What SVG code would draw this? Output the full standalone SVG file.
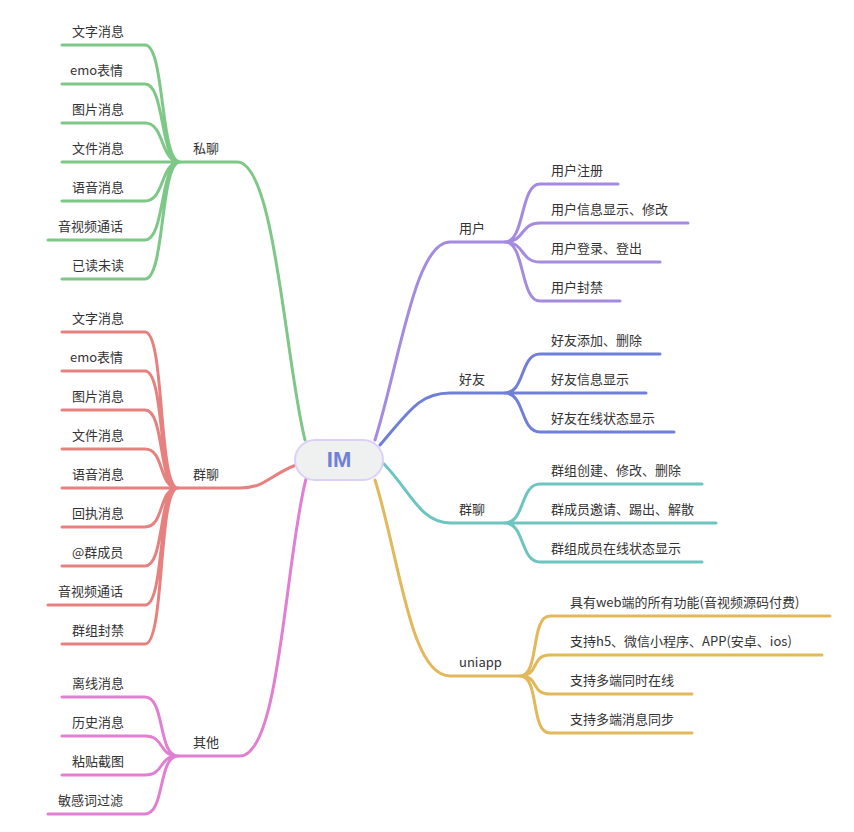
<svg xmlns="http://www.w3.org/2000/svg" width="854" height="832" viewBox="0 0 854 832">
<style>
text{font-family:"Noto Sans CJK SC","Liberation Sans",sans-serif;font-size:13px;fill:#333}
path{fill:none;stroke-width:3;stroke-linecap:round}
.g{stroke:#7dc886}.r{stroke:#e6817f}.p{stroke:#e17fd3}.u{stroke:#a48be0}.b{stroke:#6f7fda}.t{stroke:#6cc5c0}.y{stroke:#e2b85a}
.l{text-anchor:start}
</style>
<rect width="854" height="832" fill="#fff"/>
<g id="connectors">
<path class="g" d="M305,440 C285,360 275,162 237,162 H180"/>
<path class="g" d="M180,162 C160,162 165,45 145,45 H62 M180,162 C160,162 165,84 145,84 H62 M180,162 C160,162 165,123 145,123 H62 M180,162 H62 M180,162 C160,162 165,201 145,201 H62 M180,162 C160,162 165,240 145,240 H48 M180,162 C160,162 165,279 145,279 H62"/>
<path class="r" d="M296,465 C270,475 265,488 240,488 H178"/>
<path class="r" d="M178,488 C158,488 165,332 145,332 H62 M178,488 C158,488 165,371 145,371 H62 M178,488 C158,488 165,410 145,410 H62 M178,488 C158,488 165,449 145,449 H62 M178,488 H62 M178,488 C158,488 165,527 145,527 H62 M178,488 C158,488 165,566 145,566 H62 M178,488 C158,488 165,605 145,605 H48 M178,488 C158,488 165,644 145,644 H62"/>
<path class="p" d="M306,479 C285,560 280,756 240,756 H178"/>
<path class="p" d="M178,756 C158,756 165,697 145,697 H62 M178,756 C158,756 165,736 145,736 H62 M178,756 C158,756 165,775 145,775 H62 M178,756 C158,756 165,814 145,814 H48"/>
<path class="u" d="M375,440 C400,360 415,242 450,242 H505"/>
<path class="u" d="M505,242 C525,242 520,184 540,184 H618 M505,242 C525,242 520,223 540,223 H688 M505,242 C525,242 520,262 540,262 H660 M505,242 C525,242 520,301 540,301 H620"/>
<path class="b" d="M380,445 C410,410 420,393 450,393 H505"/>
<path class="b" d="M505,393 C525,393 520,354 540,354 H660 M505,393 H646 M505,393 C525,393 520,432 540,432 H674"/>
<path class="t" d="M383,463 C410,490 420,523 450,523 H505"/>
<path class="t" d="M505,523 C525,523 520,484 540,484 H702 M505,523 H716 M505,523 C525,523 520,562 540,562 H702"/>
<path class="y" d="M375,480 C400,560 410,676 450,676 H520"/>
<path class="y" d="M520,676 C540,676 530,616 550,616 H830 M520,676 C540,676 530,655 550,655 H822 M520,676 C540,676 530,694 550,694 H692 M520,676 C540,676 530,733 550,733 H692"/>
</g>
<g id="IM"><rect x="295" y="440" width="88" height="40" rx="20" fill="#eff0f0" stroke="#dcd0f8" stroke-width="2"/><text x="339" y="467" text-anchor="middle" style="font-size:22px;font-weight:bold;fill:#6f7fda;font-family:'Liberation Sans',sans-serif">IM</text></g>
<g id="siliao"><text x="193" y="153">私聊</text>
<text x="72" y="36">文字消息</text><text x="70" y="75">emo表情</text><text x="72" y="114">图片消息</text><text x="72" y="153">文件消息</text><text x="72" y="192">语音消息</text><text x="58" y="231">音视频通话</text><text x="72" y="270">已读未读</text></g>
<g id="qunliao-left"><text x="193" y="479">群聊</text>
<text x="72" y="323">文字消息</text><text x="70" y="362">emo表情</text><text x="72" y="401">图片消息</text><text x="72" y="440">文件消息</text><text x="72" y="479">语音消息</text><text x="72" y="518">回执消息</text><text x="72" y="557">@群成员</text><text x="58" y="596">音视频通话</text><text x="72" y="635">群组封禁</text></g>
<g id="qita"><text x="193" y="747">其他</text>
<text x="72" y="688">离线消息</text><text x="72" y="727">历史消息</text><text x="72" y="766">粘贴截图</text><text x="58" y="805">敏感词过滤</text></g>
<g id="yonghu"><text x="459" y="233">用户</text>
<text x="551" y="175">用户注册</text><text x="551" y="214">用户信息显示、修改</text><text x="551" y="253">用户登录、登出</text><text x="551" y="292">用户封禁</text></g>
<g id="haoyou"><text x="459" y="384">好友</text>
<text x="551" y="345">好友添加、删除</text><text x="551" y="384">好友信息显示</text><text x="551" y="423">好友在线状态显示</text></g>
<g id="qunliao-right"><text x="459" y="514">群聊</text>
<text x="551" y="475">群组创建、修改、删除</text><text x="551" y="514">群成员邀请、踢出、解散</text><text x="551" y="553">群组成员在线状态显示</text></g>
<g id="uniapp"><text x="459" y="667">uniapp</text>
<text x="570" y="607">具有web端的所有功能(音视频源码付费)</text><text x="570" y="646">支持h5、微信小程序、APP(安卓、ios)</text><text x="570" y="685">支持多端同时在线</text><text x="570" y="724">支持多端消息同步</text></g>
</svg>
